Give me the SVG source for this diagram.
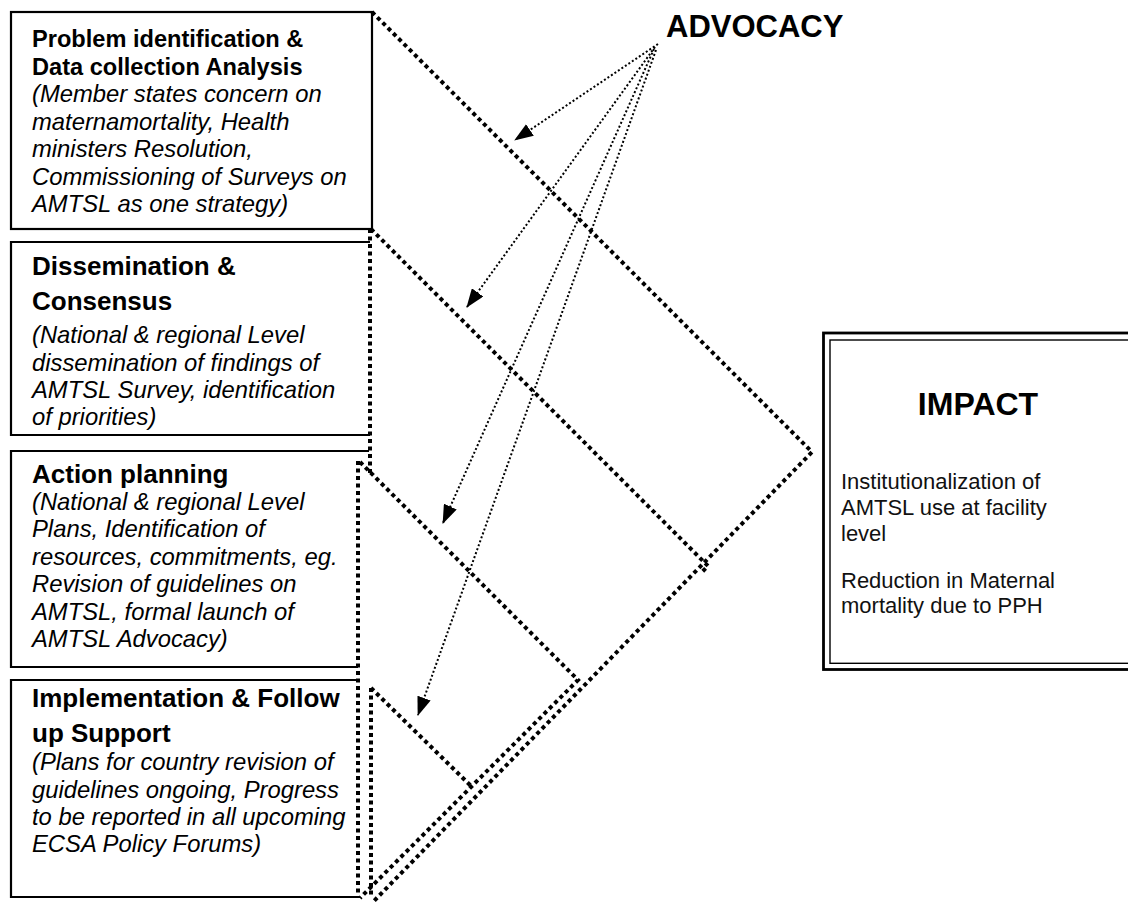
<svg xmlns="http://www.w3.org/2000/svg" width="1128" height="903" viewBox="0 0 1128 903">
<style>
.box{fill:#fff;stroke:#000;stroke-width:2.2}
.bold{font-family:"Liberation Sans",Arial,sans-serif;font-weight:bold;fill:#000}
.it{font-family:"Liberation Sans",Arial,sans-serif;font-style:italic;font-size:23.8px;fill:#000}
.reg{font-family:"Liberation Sans",Arial,sans-serif;font-size:22px;fill:#111}
.thick{fill:none;stroke:#000;stroke-width:4;stroke-dasharray:4 3.5}
.thin{fill:none;stroke:#000;stroke-width:2;stroke-dasharray:2 2.2}
</style>
<defs>
<marker id="ah" markerUnits="userSpaceOnUse" markerWidth="19" markerHeight="14" viewBox="0 0 19 14" refX="18" refY="7" orient="auto">
<path d="M0,0 L19,7 L0,14 z" fill="#000"/>
</marker>
</defs>
<rect width="1128" height="903" fill="#fff"/>

<g id="box1">
<rect class="box" x="11" y="12" width="361" height="217"/>
<text class="bold" font-size="23.6" x="32" y="47">Problem identification &amp;</text>
<text class="bold" font-size="23.6" x="32" y="74.5">Data collection Analysis</text>
<text class="it" x="32" y="102">(Member states concern on</text>
<text class="it" x="32" y="129.5">maternamortality, Health</text>
<text class="it" x="32" y="157">ministers Resolution,</text>
<text class="it" x="32" y="184.5">Commissioning of Surveys on</text>
<text class="it" x="32" y="212">AMTSL as one strategy)</text>
</g>

<g id="box2">
<path class="box" d="M370,242 H11 V435 H370"/>
<text class="bold" font-size="26" x="32" y="275">Dissemination &amp;</text>
<text class="bold" font-size="26" x="32" y="310">Consensus</text>
<text class="it" x="32" y="343">(National &amp; regional Level</text>
<text class="it" x="32" y="370.5">dissemination of findings of</text>
<text class="it" x="32" y="398">AMTSL Survey, identification</text>
<text class="it" x="32" y="425">of priorities)</text>
</g>

<g id="box3">
<path class="box" d="M369,451 H11 V667 H358"/>
<text class="bold" font-size="26" x="32" y="483">Action planning</text>
<text class="it" x="32" y="510">(National &amp; regional Level</text>
<text class="it" x="32" y="537">Plans, Identification of</text>
<text class="it" x="32" y="564.5">resources, commitments, eg.</text>
<text class="it" x="32" y="592">Revision of guidelines on</text>
<text class="it" x="32" y="619.5">AMTSL, formal launch of</text>
<text class="it" x="32" y="647">AMTSL Advocacy)</text>
</g>

<g id="box4">
<path class="box" d="M358,680 H11 V897 H360"/>
<text class="bold" font-size="26" x="32" y="707">Implementation &amp; Follow</text>
<text class="bold" font-size="26" x="32" y="742">up Support</text>
<text class="it" x="32" y="770">(Plans for country revision of</text>
<text class="it" x="32" y="797.5">guidelines ongoing, Progress</text>
<text class="it" x="32" y="825">to be reported in all upcoming</text>
<text class="it" x="32" y="852">ECSA Policy Forums)</text>
</g>

<g id="impact">
<rect x="823.5" y="333" width="320" height="336.5" fill="#fff" stroke="#000" stroke-width="2.8"/>
<rect x="830" y="340" width="320" height="323.3" fill="none" stroke="#000" stroke-width="1.4"/>
<text class="bold" font-size="32" x="978" y="415" text-anchor="middle" fill="#333">IMPACT</text>
<text class="reg" x="841" y="489">Institutionalization of</text>
<text class="reg" x="841" y="515">AMTSL use at facility</text>
<text class="reg" x="841" y="541">level</text>
<text class="reg" x="841" y="588">Reduction in Maternal</text>
<text class="reg" x="841" y="613">mortality due to PPH</text>
</g>

<g id="advocacy">
<text class="bold" font-size="31" x="666" y="37">ADVOCACY</text>
</g>

<g id="connectors">
<path class="thick" d="M372,12 L812,452 L373,902"/>
<path class="thick" d="M371,229 L708,566 L701,573"/>
<path class="thick" d="M360,462 L578,680 L360,898"/>
<path class="thick" d="M371,688 L472,787"/>
<path class="thick" d="M370,229 V473"/>
<path class="thick" d="M358,461 V898"/>
<path class="thick" d="M371,688 V898"/>
<path class="thin" d="M658,44 L515,140" marker-end="url(#ah)"/>
<path class="thin" d="M655,47 L467,307" marker-end="url(#ah)"/>
<path class="thin" d="M654,49 L443,523" marker-end="url(#ah)"/>
<path class="thin" d="M656,50 L418,715" marker-end="url(#ah)"/>
</g>
</svg>
